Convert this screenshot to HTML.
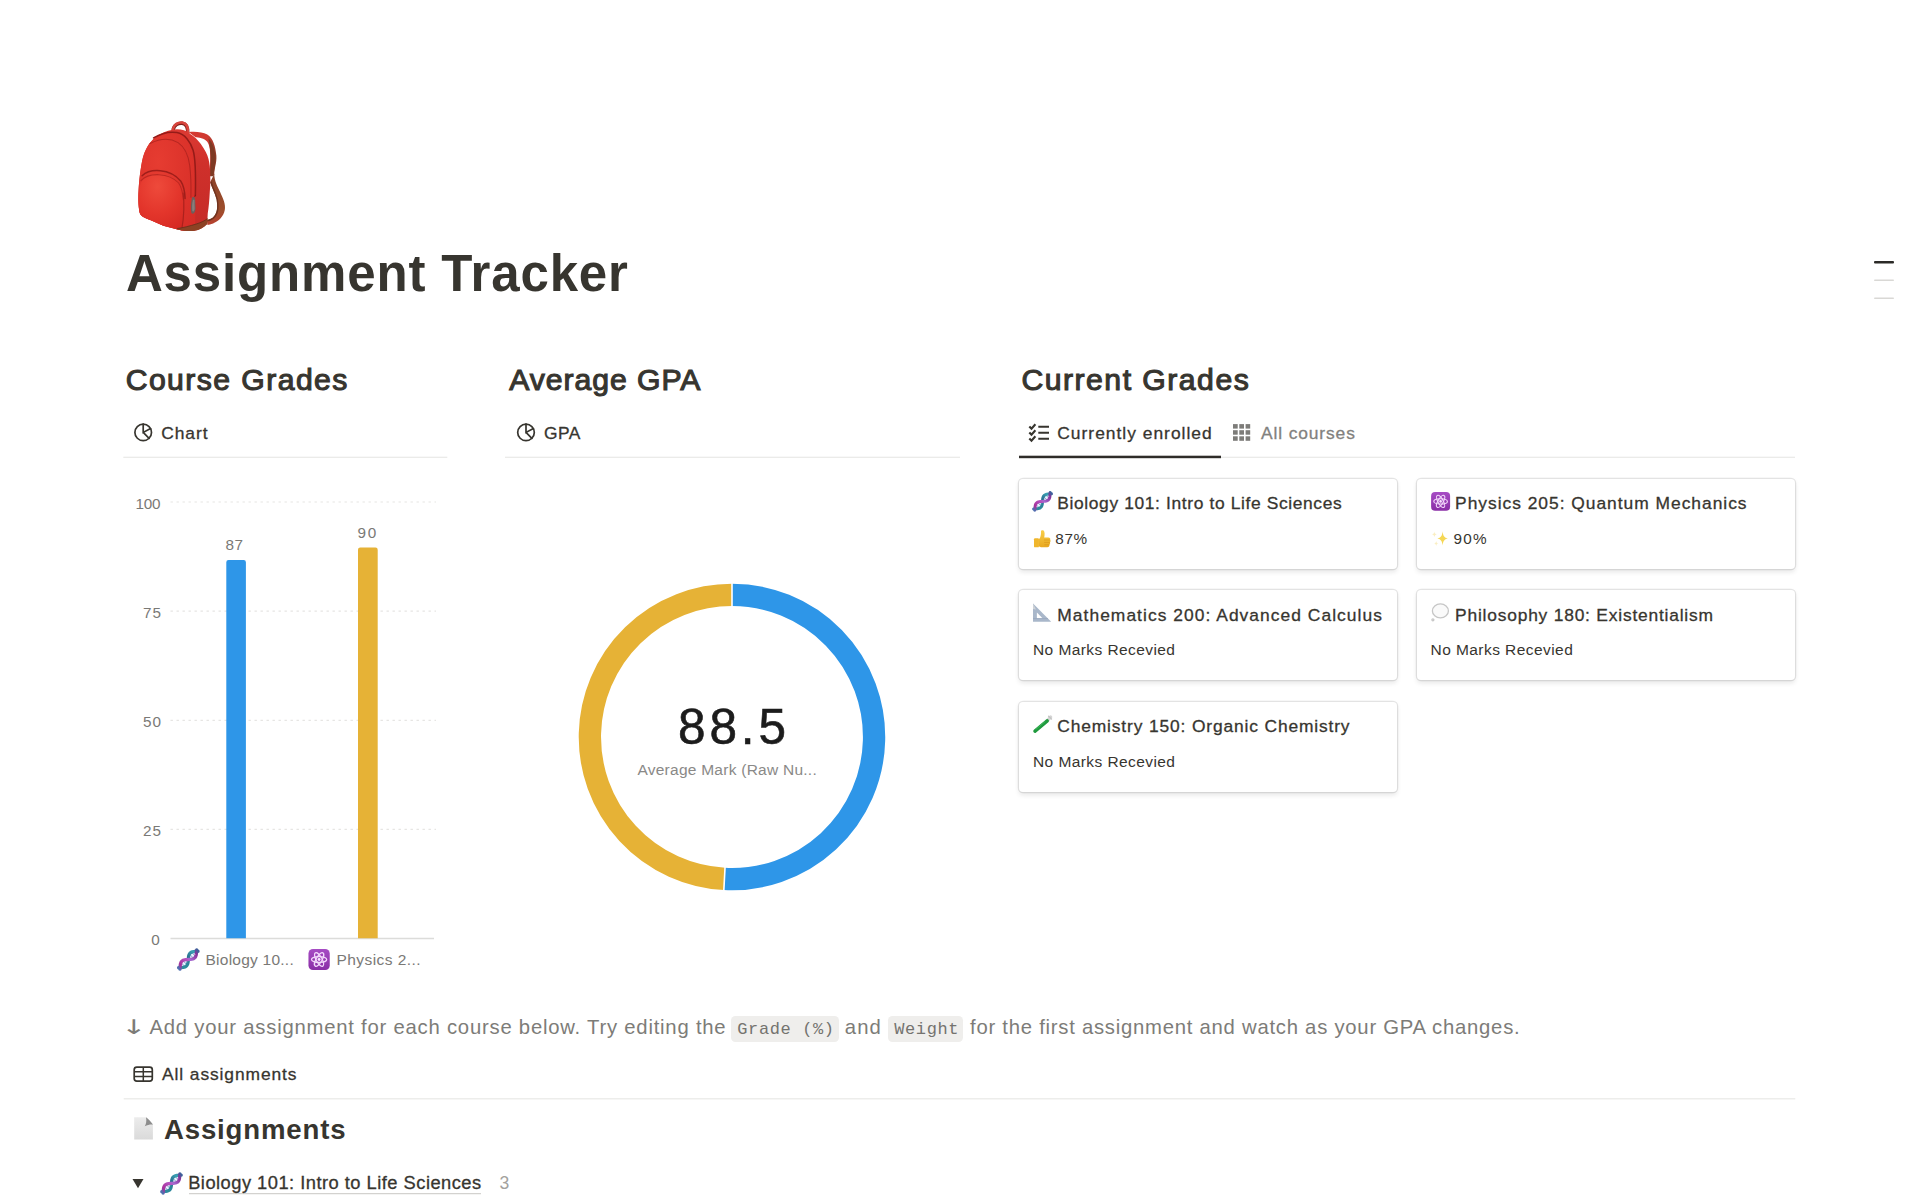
<!DOCTYPE html>
<html lang="en">
<head>
<meta charset="utf-8">
<title>Assignment Tracker</title>
<style>
html,body{margin:0;padding:0;background:#fff}
body{width:1920px;height:1199px;position:relative;overflow:hidden;font-family:"Liberation Sans",sans-serif;color:#37352f}
.t{position:absolute;white-space:pre;line-height:1;margin:0;font-weight:400}
.hr{position:absolute;height:1.2px;background:#e9e9e7}
.card{position:absolute;width:377.4px;height:89.8px;background:#fff;border-radius:4px;box-shadow:0 0 0 1.2px rgba(15,15,15,.1),0 2.4px 4.8px rgba(15,15,15,.1)}
.chip{position:absolute;top:1016.3px;height:25.4px;background:#efeeec;border-radius:4.5px}
svg{position:absolute;overflow:visible}
</style>
</head>
<body>
<svg style="left:115px;top:105px" width="130" height="140" viewBox="0 0 1113 1199">
<defs>
<radialGradient id="bpFront" cx=".35" cy=".3" r=".85"><stop offset="0" stop-color="#e63c31"/><stop offset="1" stop-color="#d62d27"/></radialGradient>
<radialGradient id="bpPocket" cx=".42" cy=".22" r=".9"><stop offset="0" stop-color="#ee4a3b"/><stop offset=".55" stop-color="#e3352b"/><stop offset="1" stop-color="#d42822"/></radialGradient>
<linearGradient id="bpSide" x1="0" y1="0" x2="0" y2="1"><stop offset="0" stop-color="#dc3a33"/><stop offset=".35" stop-color="#cf302b"/><stop offset="1" stop-color="#c52b28"/></linearGradient>
<linearGradient id="bpStrapT" x1="0" y1="0" x2="1" y2="0"><stop offset="0" stop-color="#d63a32"/><stop offset=".7" stop-color="#cf3a31"/><stop offset="1" stop-color="#8d3d28"/></linearGradient>
<linearGradient id="bpStrapB" x1="0" y1="0" x2="0" y2="1"><stop offset="0" stop-color="#8a3f27"/><stop offset=".7" stop-color="#9c4e2c"/><stop offset="1" stop-color="#b8412f"/></linearGradient>
</defs>
<!-- handle -->
<path d="M498 214C504 172 540 152 576 156C612 162 626 198 622 246" fill="none" stroke="#7d211c" stroke-width="30" stroke-linecap="round"/>
<path d="M496 206C504 166 540 146 576 150C612 156 628 192 624 240" fill="none" stroke="#d9453d" stroke-width="22" stroke-linecap="round"/>
<!-- strap top (red) -->
<path d="M630 232C690 226 750 232 790 252C840 285 860 350 868 435C872 500 850 540 850 600L806 600C812 540 820 460 812 380C805 320 780 295 740 285C720 280 700 277 690 277Z" fill="url(#bpStrapT)"/>
<path d="M800 286C840 320 856 390 860 450C862 520 845 560 846 610L812 610C818 540 824 450 814 380C810 340 806 310 800 286Z" fill="#7e3a24"/>
<!-- strap bottom (brown) -->
<path d="M850 590C850 650 880 700 900 745C925 800 950 850 940 900C930 960 880 1000 840 1014C820 1022 805 1026 792 1027L786 984C810 982 832 972 850 950C875 920 880 880 870 810C855 750 825 700 815 660Z" fill="url(#bpStrapB)"/>
<path d="M815 660C825 700 855 750 870 810C880 880 875 920 850 950C832 972 810 982 786 984L788 996C815 996 845 982 862 958C890 920 892 875 882 812C868 748 838 700 830 655Z" fill="#6f331f"/>
<!-- body silhouette (side/top panel colour) -->
<path d="M232 480C255 370 310 290 385 250C430 226 480 210 530 208C575 208 610 222 635 242C680 270 715 305 735 335C770 385 792 425 800 460C810 500 815 545 815 585C818 650 816 700 812 739C808 820 802 880 794 930C792 980 790 1000 788 1020C760 1050 720 1072 680 1078C640 1082 600 1080 570 1074C540 1068 530 1066 521 1063L414 1034L307 988C260 968 225 960 212 925C196 860 192 690 232 480Z" fill="url(#bpSide)"/>
<!-- front face -->
<path d="M232 480C250 385 300 305 362 268C420 238 480 228 530 236C600 248 648 320 668 385C690 455 692 600 688 780L686 1000C686 1040 684 1060 680 1078C640 1082 600 1080 570 1074C540 1068 530 1066 521 1063L414 1034L307 988C260 968 225 960 212 925C196 860 192 690 232 480Z" fill="url(#bpFront)"/>
<!-- main zipper -->
<path d="M330 282C400 240 470 226 530 236C600 248 648 320 668 385C690 455 692 600 688 776" fill="none" stroke="#951b18" stroke-width="13" stroke-linecap="round"/>
<path d="M300 330C380 290 470 282 540 322C600 362 630 440 640 520C650 600 652 700 650 790" fill="none" stroke="#aa221e" stroke-width="9" stroke-linecap="round" opacity=".8"/>
<!-- front pocket -->
<path d="M214 690C236 615 300 588 380 592C485 598 562 645 582 745C596 850 590 960 570 1074C545 1069 530 1066 521 1063L414 1034L307 988C260 968 225 960 212 925C198 860 196 760 214 690Z" fill="url(#bpPocket)"/>
<!-- pocket zipper -->
<path d="M232 606C300 540 470 542 562 650C588 690 598 740 600 800" fill="none" stroke="#9f1e1a" stroke-width="13" stroke-linecap="round"/>
<path d="M222 648C290 575 460 578 545 668C570 705 581 750 585 810" fill="none" stroke="#b52520" stroke-width="9" stroke-linecap="round" opacity=".85"/>
<!-- pocket edge shadow -->
<path d="M583 750C596 850 590 960 571 1070" fill="none" stroke="#ab211d" stroke-width="10"/>
<!-- zipper pull -->
<path d="M688 770C688 782 678 790 670 796" fill="none" stroke="#6a1a17" stroke-width="7"/>
<path d="M660 792C672 782 684 790 686 806L690 890C688 920 668 940 656 928C646 905 648 840 660 792Z" fill="#6b5f5d"/>
<path d="M668 812L680 812L682 890C680 908 668 918 662 908C658 880 660 840 668 812Z" fill="#8a7d7a"/>
<!-- bottom band -->
<path d="M528 1059C580 1052 640 1036 700 1018C740 1005 770 990 793 972L790 1020C760 1050 720 1072 680 1078C640 1082 590 1080 528 1064Z" fill="#8c4224"/>
<path d="M532 1058C580 1052 640 1036 700 1018C740 1005 770 990 792 973" fill="none" stroke="#5f2c18" stroke-width="6"/>
</svg>


<!--DIVIDERS-->
<svg style="left:0;top:0" width="1920" height="1199" viewBox="0 0 1920 1199">
<g fill="#e9e9e7">
<rect x="123.3" y="456.7" width="324" height="1.2"/>
<rect x="505" y="456.7" width="455" height="1.2"/>
<rect x="1019" y="456.7" width="776" height="1.2"/>
<rect x="123.7" y="1098.2" width="1671.6" height="1.2"/>
</g>
<rect x="1019" y="455.7" width="202" height="2.5" fill="#2f2d29"/>
<g>
<rect x="1874" y="261" width="20" height="2.4" rx="1" fill="#2b2a27"/>
<rect x="1874" y="279.4" width="20" height="1.7" rx=".8" fill="#d9d8d5"/>
<rect x="1874" y="297.4" width="20" height="1.7" rx=".8" fill="#d9d8d5"/>
</g>
</svg>
<svg style="left:0;top:0" width="1920" height="1199" viewBox="0 0 1920 1199">
<!-- pie icons -->
<g fill="none" stroke="#37352f" stroke-width="1.7" stroke-linecap="round">
<g transform="translate(143.2 432.4)"><circle r="8.3"/><path d="M0 -8.3V0L7.4 -3.8M0 0L5.9 5.9"/></g>
<g transform="translate(526 432.4)"><circle r="8.3"/><path d="M0 -8.3V0L7.4 -3.8M0 0L5.9 5.9"/></g>
</g>
<!-- checklist icon -->
<g fill="none" stroke="#37352f" stroke-width="2">
<path d="M1038.3 426.7H1049M1038.3 432.7H1049M1038.3 438.8H1049"/>
<path d="M1029.3 426.4l2.2 2.2 3.9-4.4M1029.3 432.4l2.2 2.2 3.9-4.4M1029.3 438.5l2.2 2.2 3.9-4.4" stroke-width="2.1"/>
</g>
<!-- grid icon -->
<g fill="#7d7c79">
<rect x="1233" y="424.1" width="4.7" height="4.5"/><rect x="1239.3" y="424.1" width="4.7" height="4.5"/><rect x="1245.6" y="424.1" width="4.6" height="4.5"/>
<rect x="1233" y="430.2" width="4.7" height="4.5"/><rect x="1239.3" y="430.2" width="4.7" height="4.5"/><rect x="1245.6" y="430.2" width="4.6" height="4.5"/>
<rect x="1233" y="436.3" width="4.7" height="4.5"/><rect x="1239.3" y="436.3" width="4.7" height="4.5"/><rect x="1245.6" y="436.3" width="4.6" height="4.5"/>
</g>
<!-- table icon -->
<g fill="none" stroke="#37352f" stroke-width="1.7">
<rect x="134.2" y="1067.1" width="18.1" height="14.1" rx="2.6"/>
<path d="M134.2 1071.7H152.3M134.2 1076.6H152.3M143.3 1067.1V1081.2" stroke-width="1.5"/>
</g>
<!-- toggle triangle -->
<path d="M132.5 1179h11l-5.5 9.2z" fill="#37352f"/>
<!-- group underline -->
<path d="M189 1193.6H481" stroke="#d3d2cf" stroke-width="1.2"/>
</svg>

<svg style="left:0;top:0" width="1920" height="1199" viewBox="0 0 1920 1199">
<g stroke="#e6e5e3" stroke-width="1.2" stroke-dasharray="2.4 3.6" fill="none">
<path d="M170.5 502H436M170.5 611.2H436M170.5 720.3H436M170.5 829.4H436"/>
</g>
<path d="M170.5 938.5H434" stroke="#dcdcda" stroke-width="1.3"/>
<path d="M226.3 938.3V562.2a2.2 2.2 0 0 1 2.2-2.2h15.2a2.2 2.2 0 0 1 2.2 2.2V938.3z" fill="#2e96e8"/>
<path d="M358 938.3V549.7a2.2 2.2 0 0 1 2.2-2.2h15.3a2.2 2.2 0 0 1 2.2 2.2V938.3z" fill="#e6b236"/>
</svg>

<svg style="left:0;top:0" width="1920" height="1199" viewBox="0 0 1920 1199">
<g fill="none" stroke-width="22.3">
<path d="M732.00 594.90A142.1 142.1 0 1 1 724.44 878.90" stroke="#2e96e8"/>
<path d="M724.44 878.90A142.1 142.1 0 0 1 732.00 594.90" stroke="#e6b236"/>
</g>
<path d="M732.00 608.00L732.00 582.00M725.13 865.82L723.75 891.78" stroke="#fff" stroke-width="1.6"/>
</svg>

<!--CARDS-->
<div class="card" style="left:1019.4px;top:478.9px"></div>
<div class="card" style="left:1417.3px;top:478.9px"></div>
<div class="card" style="left:1019.4px;top:590.4px"></div>
<div class="card" style="left:1417.3px;top:590.4px"></div>
<div class="card" style="left:1019.4px;top:701.9px"></div>
<!--CHIPS-->
<div class="chip" style="left:731.3px;width:108.2px"></div>
<div class="chip" style="left:887.5px;width:75.8px"></div>
<svg style="left:0;top:0" width="1920" height="1199" viewBox="0 0 1920 1199">
<defs>
<linearGradient id="dnaM" x1="-13" y1="0" x2="13" y2="0" gradientUnits="userSpaceOnUse">
<stop offset="0" stop-color="#4f6fb0"/><stop offset=".14" stop-color="#a8309a"/><stop offset=".45" stop-color="#b653c0"/><stop offset=".55" stop-color="#a56ad0"/><stop offset=".86" stop-color="#8a2f9a"/><stop offset="1" stop-color="#3f5f9a"/>
</linearGradient>
<linearGradient id="dnaT" x1="-13" y1="0" x2="13" y2="0" gradientUnits="userSpaceOnUse">
<stop offset="0" stop-color="#4f6fb0"/><stop offset=".14" stop-color="#2d8f9c"/><stop offset=".45" stop-color="#2a7f98"/><stop offset=".55" stop-color="#2a6f90"/><stop offset=".86" stop-color="#3aa4b4"/><stop offset="1" stop-color="#3f5f9a"/>
</linearGradient>
<g id="dna" transform="rotate(-44.6)">
<path d="M-11.60 -0.00L-11.12 -0.43L-10.63 -0.85L-10.15 -1.26L-9.67 -1.65L-9.18 -2.01L-8.70 -2.33L-8.22 -2.62L-7.73 -2.86L-7.25 -3.05L-6.77 -3.19L-6.28 -3.27L-5.80 -3.30L-5.32 -3.27L-4.83 -3.19L-4.35 -3.05L-3.87 -2.86L-3.38 -2.62L-2.90 -2.33L-2.42 -2.01L-1.93 -1.65L-1.45 -1.26L-0.97 -0.85L-0.48 -0.43L0.00 0.00L0.00 -0.00L-0.48 0.43L-0.97 0.85L-1.45 1.26L-1.93 1.65L-2.42 2.01L-2.90 2.33L-3.38 2.62L-3.87 2.86L-4.35 3.05L-4.83 3.19L-5.32 3.27L-5.80 3.30L-6.28 3.27L-6.77 3.19L-7.25 3.05L-7.73 2.86L-8.22 2.62L-8.70 2.33L-9.18 2.01L-9.67 1.65L-10.15 1.26L-10.63 0.85L-11.12 0.43L-11.60 0.00ZM0.00 0.00L0.48 0.43L0.97 0.85L1.45 1.26L1.93 1.65L2.42 2.01L2.90 2.33L3.38 2.62L3.87 2.86L4.35 3.05L4.83 3.19L5.32 3.27L5.80 3.30L6.28 3.27L6.77 3.19L7.25 3.05L7.73 2.86L8.22 2.62L8.70 2.33L9.18 2.01L9.67 1.65L10.15 1.26L10.63 0.85L11.12 0.43L11.60 0.00L11.60 -0.00L11.12 -0.43L10.63 -0.85L10.15 -1.26L9.67 -1.65L9.18 -2.01L8.70 -2.33L8.22 -2.62L7.73 -2.86L7.25 -3.05L6.77 -3.19L6.28 -3.27L5.80 -3.30L5.32 -3.27L4.83 -3.19L4.35 -3.05L3.87 -2.86L3.38 -2.62L2.90 -2.33L2.42 -2.01L1.93 -1.65L1.45 -1.26L0.97 -0.85L0.48 -0.43L0.00 -0.00Z" fill="#eaf5fd"/>
<path d="M-7.4 -2.6V2.6M-4.6 -2.6V2.6M4.6 -2.6V2.6M7.4 -2.6V2.6" stroke="#7f93c8" stroke-width=".9"/>
<path d="M-12.70 -0.97L-12.28 -0.60L-11.85 -0.23L-11.43 0.15L-11.01 0.53L-10.58 0.90L-10.16 1.25L-9.74 1.60L-9.31 1.92L-8.89 2.21L-8.47 2.48L-8.04 2.71L-7.62 2.91L-7.20 3.07L-6.77 3.19L-6.35 3.26L-5.93 3.30L-5.50 3.29L-5.08 3.24L-4.66 3.14L-4.23 3.01L-3.81 2.83L-3.39 2.62L-2.96 2.37L-2.54 2.10L-2.12 1.79L-1.69 1.46L-1.27 1.11L-0.85 0.75L-0.42 0.38L0.00 -0.00L0.42 -0.38L0.85 -0.75L1.27 -1.11L1.69 -1.46L2.12 -1.79L2.54 -2.10L2.96 -2.37L3.39 -2.62L3.81 -2.83L4.23 -3.01L4.66 -3.14L5.08 -3.24L5.50 -3.29L5.93 -3.30L6.35 -3.26L6.77 -3.19L7.20 -3.07L7.62 -2.91L8.04 -2.71L8.47 -2.48L8.89 -2.21L9.31 -1.92L9.74 -1.60L10.16 -1.25L10.58 -0.90L11.01 -0.53L11.43 -0.15L11.85 0.23L12.28 0.60L12.70 0.97" fill="none" stroke="url(#dnaT)" stroke-width="3.3" stroke-linecap="round"/>
<path d="M-12.70 0.97L-12.28 0.60L-11.85 0.23L-11.43 -0.15L-11.01 -0.53L-10.58 -0.90L-10.16 -1.25L-9.74 -1.60L-9.31 -1.92L-8.89 -2.21L-8.47 -2.48L-8.04 -2.71L-7.62 -2.91L-7.20 -3.07L-6.77 -3.19L-6.35 -3.26L-5.93 -3.30L-5.50 -3.29L-5.08 -3.24L-4.66 -3.14L-4.23 -3.01L-3.81 -2.83L-3.39 -2.62L-2.96 -2.37L-2.54 -2.10L-2.12 -1.79L-1.69 -1.46L-1.27 -1.11L-0.85 -0.75L-0.42 -0.38L0.00 0.00L0.42 0.38L0.85 0.75L1.27 1.11L1.69 1.46L2.12 1.79L2.54 2.10L2.96 2.37L3.39 2.62L3.81 2.83L4.23 3.01L4.66 3.14L5.08 3.24L5.50 3.29L5.93 3.30L6.35 3.26L6.77 3.19L7.20 3.07L7.62 2.91L8.04 2.71L8.47 2.48L8.89 2.21L9.31 1.92L9.74 1.60L10.16 1.25L10.58 0.90L11.01 0.53L11.43 0.15L11.85 -0.23L12.28 -0.60L12.70 -0.97" fill="none" stroke="url(#dnaM)" stroke-width="3.3" stroke-linecap="round"/>
</g>
<linearGradient id="atG" x1="0" y1="0" x2="0" y2="1"><stop offset="0" stop-color="#a64cc4"/><stop offset="1" stop-color="#8a2ea6"/></linearGradient>
<g id="atom">
<rect x="-9.5" y="-9.4" width="19" height="18.8" rx="4" fill="url(#atG)"/>
<g fill="none" stroke="#f3d9fb" stroke-width="1.1"><ellipse rx="6.8" ry="2.6"/><ellipse rx="6.8" ry="2.6" transform="rotate(60)"/><ellipse rx="6.8" ry="2.6" transform="rotate(120)"/></g>
<circle r="1.3" fill="#f8e6ff"/>
</g>
<linearGradient id="thG" x1="0" y1="0" x2="0" y2="1"><stop offset="0" stop-color="#f8cf4a"/><stop offset="1" stop-color="#e9a820"/></linearGradient>
<linearGradient id="pgG" x1="0" y1="0" x2="0" y2="1"><stop offset="0" stop-color="#ececec"/><stop offset="1" stop-color="#dadada"/></linearGradient>
</defs>
<!-- DNA emojis -->
<use href="#dna" x="0" y="0" transform="translate(1042.5 501.4) scale(0.92)"/>
<use href="#dna" transform="translate(188.3 959.5) scale(1.0)"/>
<use href="#dna" transform="translate(171.5 1183.4) scale(1.0)"/>
<!-- atom emojis -->
<use href="#atom" transform="translate(1440.6 501.4)"/>
<use href="#atom" transform="translate(319.1 959.5) scale(1.12)"/>
<!-- triangle ruler -->
<path d="M1033 603.4V621.8H1051.2Z" fill="#a9b7ca"/>
<path d="M1033 603.4V609l3 .5z" fill="#cfd3d8"/>
<path d="M1036.9 612.6v5.6h5.6z" fill="#fff"/>
<path d="M1033 618.6h15" stroke="#97a6bb" stroke-width=".8"/>
<!-- thought bubble -->
<g fill="#fafafa" stroke="#c6c6c6" stroke-width="1.3">
<ellipse cx="1440.4" cy="610.9" rx="8" ry="7"/>
<circle cx="1432.9" cy="619.8" r="1"/>
</g>
<!-- test tube -->
<path d="M1047.4 720.7L1050.6 717" stroke="#d6d6d6" stroke-width="3.4" stroke-linecap="round"/>
<path d="M1048.6 716.2L1051.5 719" stroke="#c4c4c4" stroke-width="1.4" stroke-linecap="round"/>
<path d="M1035 731.2L1047.2 720.9" stroke="#1f9a3e" stroke-width="3.5" stroke-linecap="round"/>
<path d="M1036 729.2L1045 721.6" stroke="#3cb85a" stroke-width="1" stroke-linecap="round"/>
<!-- thumbs up -->
<g transform="translate(1033.6 530)">
<path d="M6.3 8.2C7.2 6 7.6 3.4 7.4 1.4C7.3 .2 9 -.3 10 .6C11.3 1.9 11.2 5 10.6 7.4H14.8C16.4 7.4 17 8.6 16.6 9.8C17.2 10.6 17.1 11.7 16.4 12.3C16.8 13.2 16.5 14.2 15.8 14.7C16 15.9 15.3 17.2 13.8 17.3H8.4C6.8 17.3 5.8 16.6 4.8 16.3V9.2z" fill="url(#thG)"/>
<path d="M.4 9.2C.4 8.6 .8 8.3 1.4 8.3H4.4C5 8.3 5.3 8.7 5.3 9.2V16.4C5.3 17 5 17.3 4.4 17.3H1.4C.8 17.3 .4 17 .4 16.4z" fill="#f0b62c"/>
<path d="M10.4 10h5.8M10.6 12.4h5.6M10.8 14.8h4.8" stroke="#d9951a" stroke-width=".7"/>
</g>
<!-- sparkles -->
<path d="M1442.6 531.2c.5 4.700 1.600 6.400 5.200 7.200c-3.600 .8-4.700 2.500-5.200 7.200c-.5-4.700-1.600-6.400-5.200-7.200c3.600-.8 4.700-2.500 5.200-7.200z" fill="#f5d755"/>
<path d="M1434.4 531.600c.25 1.800 .8 2.500 2.400 2.800c-1.600 .3-2.150 1-2.400 2.800c-.25-1.800-.8-2.500-2.400-2.800c1.600-.3 2.150-1 2.400-2.800z" fill="#f7e39a" opacity=".6"/>
<path d="M1436.200 541c.25 1.600 .7 2.200 2.200 2.500c-1.500 .3-1.950 .9-2.200 2.500c-.25-1.600-.7-2.200-2.200-2.500c1.500-.3 1.950-.9 2.200-2.500z" fill="#f7e39a" opacity=".6"/>
<!-- page icon -->
<path d="M134.200 1117.200H146.200L152.900 1124.200V1139.500H134.200Z" fill="url(#pgG)"/>
<path d="M146 1117.200C146.800 1121 146 1124.300 144.800 1126.300C147.500 1124.800 150.500 1124.300 152.900 1124.600C151 1121.500 148.500 1118.800 146 1117.200Z" fill="#8d8d8d"/>
</svg>

<h1 class="t" id="title" style="left:125.90px;top:247.50px;font-size:51px;color:#37352f;font-weight:700;letter-spacing:0.853px;">Assignment Tracker</h1>
<h2 class="t" id="h1" style="left:125.70px;top:365.00px;font-size:30.2px;color:#37352f;letter-spacing:1.417px;-webkit-text-stroke:1.1px #37352f;">Course Grades</h2>
<h2 class="t" id="h2" style="left:509.30px;top:365.00px;font-size:30.2px;color:#37352f;letter-spacing:0.94px;-webkit-text-stroke:1.1px #37352f;">Average GPA</h2>
<h2 class="t" id="h3" style="left:1021.50px;top:365.00px;font-size:30.2px;color:#37352f;letter-spacing:1.477px;-webkit-text-stroke:1.1px #37352f;">Current Grades</h2>
<div class="t" id="t1" style="left:161.20px;top:424.80px;font-size:17.4px;color:#37352f;letter-spacing:0.95px;-webkit-text-stroke:0.3px #37352f;">Chart</div>
<div class="t" id="t2" style="left:544.00px;top:424.80px;font-size:17.4px;color:#37352f;letter-spacing:0.5px;-webkit-text-stroke:0.3px #37352f;">GPA</div>
<div class="t" id="t3" style="left:1057.30px;top:424.60px;font-size:17.4px;color:#37352f;letter-spacing:1.006px;-webkit-text-stroke:0.3px #37352f;">Currently enrolled</div>
<div class="t" id="t4" style="left:1261.00px;top:424.60px;font-size:17.4px;color:#82817e;letter-spacing:0.88px;-webkit-text-stroke:0.3px #82817e;">All courses</div>
<div class="t" id="y100" style="left:135.60px;top:495.60px;font-size:15.3px;color:#7a7976;letter-spacing:-0.25px;">100</div>
<div class="t" id="y75" style="left:143.10px;top:604.80px;font-size:15.3px;color:#7a7976;letter-spacing:1.0px;">75</div>
<div class="t" id="y50" style="left:143.10px;top:713.90px;font-size:15.3px;color:#7a7976;letter-spacing:1.0px;">50</div>
<div class="t" id="y25" style="left:143.00px;top:823.10px;font-size:15.3px;color:#7a7976;letter-spacing:0.9px;">25</div>
<div class="t" id="y0" style="left:151.30px;top:932.20px;font-size:15.3px;color:#7a7976;">0</div>
<div class="t" id="b87" style="left:225.50px;top:536.70px;font-size:15.3px;color:#7a7976;letter-spacing:0.6px;">87</div>
<div class="t" id="b90" style="left:357.40px;top:524.50px;font-size:15.3px;color:#7a7976;letter-spacing:1.8px;">90</div>
<div class="t" id="xl1" style="left:205.50px;top:951.70px;font-size:15.5px;color:#7a7976;letter-spacing:0.242px;">Biology 10...</div>
<div class="t" id="xl2" style="left:336.40px;top:951.70px;font-size:15.5px;color:#7a7976;letter-spacing:0.455px;">Physics 2...</div>
<div class="t" id="big" style="left:678.00px;top:701.80px;font-size:49.5px;color:#1c1c1c;letter-spacing:3.867px;-webkit-text-stroke:0.6px #1c1c1c;">88.5</div>
<div class="t" id="avg" style="left:637.40px;top:762.30px;font-size:15.5px;color:#8a8987;letter-spacing:0.255px;">Average Mark (Raw Nu...</div>
<div class="t" id="c1" style="left:1057.30px;top:494.80px;font-size:17.4px;color:#37352f;letter-spacing:0.629px;-webkit-text-stroke:0.3px #37352f;">Biology 101: Intro to Life Sciences</div>
<div class="t" id="c2" style="left:1455.10px;top:494.80px;font-size:17.4px;color:#37352f;letter-spacing:0.983px;-webkit-text-stroke:0.3px #37352f;">Physics 205: Quantum Mechanics</div>
<div class="t" id="c3" style="left:1057.30px;top:606.50px;font-size:17.4px;color:#37352f;letter-spacing:1.048px;-webkit-text-stroke:0.3px #37352f;">Mathematics 200: Advanced Calculus</div>
<div class="t" id="c4" style="left:1455.10px;top:606.50px;font-size:17.4px;color:#37352f;letter-spacing:0.793px;-webkit-text-stroke:0.3px #37352f;">Philosophy 180: Existentialism</div>
<div class="t" id="c5" style="left:1057.30px;top:718.00px;font-size:17.4px;color:#37352f;letter-spacing:0.855px;-webkit-text-stroke:0.3px #37352f;">Chemistry 150: Organic Chemistry</div>
<div class="t" id="s1" style="left:1055.30px;top:530.50px;font-size:15.3px;color:#37352f;letter-spacing:0.6px;">87%</div>
<div class="t" id="s2" style="left:1453.40px;top:530.50px;font-size:15.3px;color:#37352f;letter-spacing:1.25px;">90%</div>
<div class="t" id="s3" style="left:1033.00px;top:641.80px;font-size:15.5px;color:#37352f;letter-spacing:0.419px;">No Marks Recevied</div>
<div class="t" id="s4" style="left:1430.50px;top:641.80px;font-size:15.5px;color:#37352f;letter-spacing:0.438px;">No Marks Recevied</div>
<div class="t" id="s5" style="left:1033.00px;top:753.50px;font-size:15.5px;color:#37352f;letter-spacing:0.419px;">No Marks Recevied</div>
<div class="t" id="p0" style="left:124.90px;top:1016.75px;font-size:20.3px;color:#7d7c78;font-family:'DejaVu Sans',sans-serif;transform:scaleX(1.5);transform-origin:50% 50%;">↓</div>
<div class="t" id="p1" style="left:149.50px;top:1016.75px;font-size:20.3px;color:#7d7c78;letter-spacing:0.772px;">Add your assignment for each course below. Try editing the</div>
<div class="t" id="p2" style="left:737.25px;top:1020.75px;font-size:17px;color:#74736f;font-family:'Liberation Mono',monospace;letter-spacing:0.625px;">Grade (%)</div>
<div class="t" id="p3" style="left:844.75px;top:1016.75px;font-size:20.3px;color:#7d7c78;letter-spacing:1.125px;">and</div>
<div class="t" id="p4" style="left:894.25px;top:1020.75px;font-size:17px;color:#74736f;font-family:'Liberation Mono',monospace;letter-spacing:0.6px;">Weight</div>
<div class="t" id="p5" style="left:970.00px;top:1016.75px;font-size:20.3px;color:#7d7c78;letter-spacing:0.75px;">for the first assignment and watch as your GPA changes.</div>
<div class="t" id="ta" style="left:162.00px;top:1066.00px;font-size:17.4px;color:#37352f;letter-spacing:0.911px;-webkit-text-stroke:0.3px #37352f;">All assignments</div>
<h2 class="t" id="as" style="left:164.00px;top:1116.25px;font-size:27.6px;color:#37352f;font-weight:700;letter-spacing:0.825px;">Assignments</h2>
<div class="t" id="g1" style="left:188.20px;top:1173.70px;font-size:18.3px;color:#37352f;letter-spacing:0.487px;-webkit-text-stroke:0.3px #37352f;">Biology 101: Intro to Life Sciences</div>
<div class="t" id="g3" style="left:499.50px;top:1174.70px;font-size:17.6px;color:#a3a29e;">3</div>
</body>
</html>
